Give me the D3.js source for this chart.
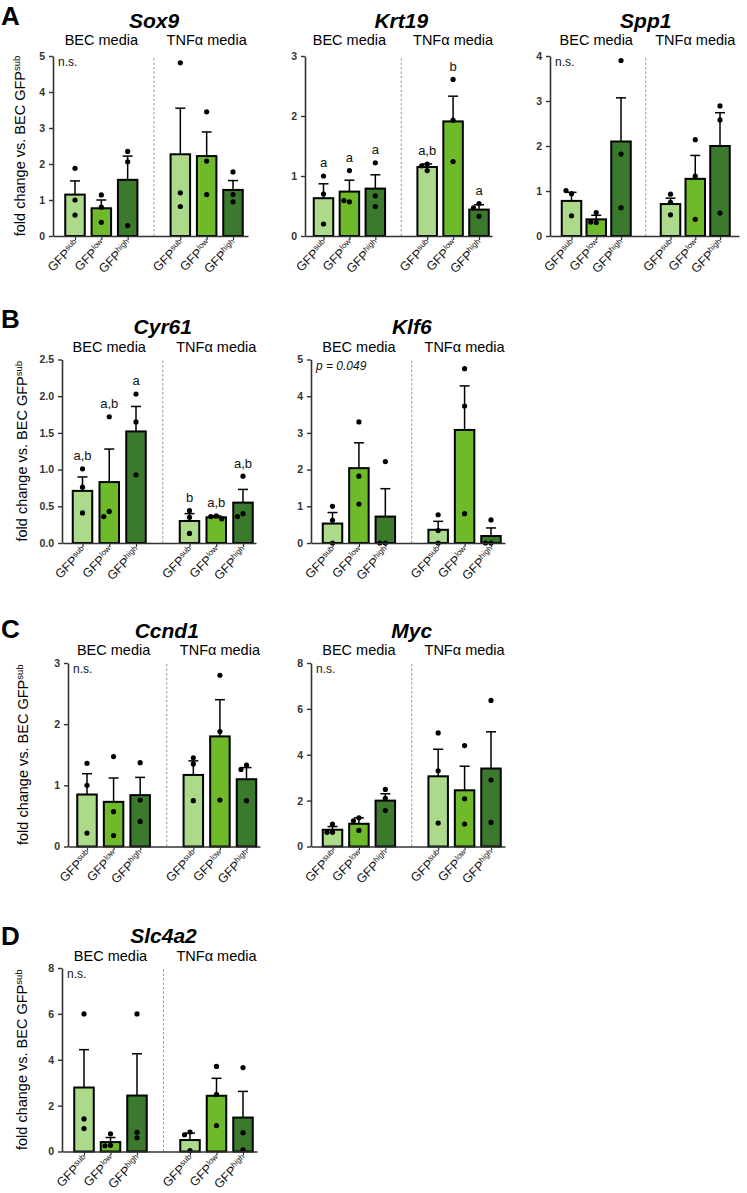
<!DOCTYPE html>
<html><head><meta charset="utf-8">
<script src="https://cdn.jsdelivr.net/npm/d3@7"></script>
<style>body{margin:0;background:#fff} svg{display:block} text{font-family:"Liberation Sans", Arial, Helvetica, sans-serif}</style>
</head><body><svg id="c" width="747" height="1193"></svg>
<script>
// ---------- data ----------
const categories = ["sub","low","high","sub","low","high"];
const mediaLabels = ["BEC media","TNFα media"];

const sox9Mean = [1.15, 0.77, 1.56, 2.27, 2.22, 1.28];
const sox9Err  = [1.53, 1.00, 2.22, 3.55, 2.89, 1.54];
const sox9Dots = [[1.88,1.00,0.58],[1.14,0.80,0.38],[2.35,2.06,0.29],[4.81,1.20,0.82],[3.45,2.08,1.15],[1.78,1.15,0.95]];
const sox9Ticks = [0,1,2,3,4,5];

const krt19Mean = [0.63, 0.74, 0.79, 1.15, 1.91, 0.44];
const krt19Err  = [0.87, 0.93, 1.02, 1.20, 2.33, 0.52];
const krt19Dots = [[1.00,0.70,0.20],[1.09,0.57,0.59],[1.22,0.67,0.49],[1.20,1.17,1.09],[2.61,1.93,1.24],[0.54,0.47,0.33]];
const krt19Letters = ["a","a","a","a,b","b","a"];
const krt19Ticks = [0,1,2,3];

const spp1Mean = [0.78, 0.37, 2.10, 0.71, 1.27, 2.00];
const spp1Err  = [0.97, 0.46, 3.07, 0.84, 1.79, 2.74];
const spp1Dots = [[0.94,1.01,0.45],[0.52,0.30,0.31],[3.90,1.82,0.63],[0.93,0.75,0.47],[2.14,1.33,0.37],[2.89,2.58,0.51]];
const spp1Ticks = [0,1,2,3,4];

const cyr61Mean = [0.71, 0.83, 1.52, 0.30, 0.35, 0.55];
const cyr61Err  = [0.90, 1.28, 1.86, 0.40, 0.37, 0.73];
const cyr61Dots = [[1.01,0.76,0.41],[1.72,0.43,0.36],[2.03,1.65,0.93],[0.44,0.35,0.13],[0.37,0.36,0.33],[0.91,0.40,0.36]];
const cyr61Letters = ["a,b","a,b","a","b","a,b","a,b"];
const cyr61Ticks = [0,0.5,1.0,1.5,2.0,2.5];

const klf6Mean = [0.53, 2.04, 0.72, 0.36, 3.08, 0.19];
const klf6Err  = [0.83, 2.73, 1.48, 0.59, 4.28, 0.41];
const klf6Dots = [[1.00,0.62,0.00],[3.30,1.82,1.06],[2.22,0.00,0.00],[0.77,0.34,0.00],[4.75,3.73,0.80],[0.63,0.00,0.00]];
const klf6Ticks = [0,1,2,3,4,5];

const ccnd1Mean = [0.85, 0.73, 0.84, 1.17, 1.80, 1.10];
const ccnd1Err  = [1.19, 1.12, 1.13, 1.40, 2.40, 1.29];
const ccnd1Dots = [[1.36,1.00,0.22],[1.47,0.57,0.18],[1.37,0.76,0.41],[1.45,1.35,0.75],[2.80,1.88,0.76],[1.33,1.26,0.75]];
const ccnd1Ticks = [0,1,2,3];

const mycMean = [0.73, 0.99, 2.00, 3.06, 2.45, 3.40];
const mycErr  = [0.87, 1.25, 2.30, 4.24, 3.50, 5.00];
const mycDots = [[0.98,0.62,0.62],[1.25,1.12,0.70],[2.49,2.10,1.57],[4.95,3.30,1.02],[4.40,2.08,0.98],[6.37,2.90,1.05]];
const mycTicks = [0,2,4,6,8];

const slc4a2Mean = [2.79, 0.41, 2.44, 0.50, 2.43, 1.48];
const slc4a2Err  = [4.44, 0.61, 4.26, 0.80, 3.19, 2.62];
const slc4a2Dots = [[6.00,1.42,1.00],[0.77,0.27,0.25],[6.00,0.84,0.60],[0.85,0.73,0.04],[3.71,2.49,1.13],[3.66,0.82,0.07]];
const slc4a2Ticks = [0,2,4,6,8];

// ---------- layout / styling ----------
const colors = {sub:"#acd98a", low:"#6fba2a", high:"#3b7a2c"};
const slots = [0,1,2,4,5,6];

const panels = [
  {gene:"Sox9",  mean:sox9Mean,  err:sox9Err,  dots:sox9Dots,  ticks:sox9Ticks,  max:5,   fmt:d3.format("d"),  ax:53,  top:56,  bottom:236, bx:[22,180], xEnd:195, note:"n.s.", ylab:25, tDy:28, sDy:11},
  {gene:"Krt19", mean:krt19Mean, err:krt19Err, dots:krt19Dots, ticks:krt19Ticks, max:3,   fmt:d3.format("d"),  ax:305, top:56,  bottom:236, bx:[18.5,174], xEnd:187, letters:krt19Letters, tDy:28, sDy:11},
  {gene:"Spp1",  mean:spp1Mean,  err:spp1Err,  dots:spp1Dots,  ticks:spp1Ticks,  max:4,   fmt:d3.format("d"),  ax:550, top:56,  bottom:236, bx:[21.5,170], xEnd:189, note:"n.s.", tDy:28, sDy:11},
  {gene:"Cyr61", mean:cyr61Mean, err:cyr61Err, dots:cyr61Dots, ticks:cyr61Ticks, max:2.5, fmt:d3.format(".1f"), ax:62,  top:359.5, bottom:543, bx:[20.5,181], xEnd:194, letters:cyr61Letters, ylab:27, tDy:26, sDy:8},
  {gene:"Klf6",  mean:klf6Mean,  err:klf6Err,  dots:klf6Dots,  ticks:klf6Ticks,  max:5,   fmt:d3.format("d"),  ax:311, top:359.5, bottom:543, bx:[21.5,180], xEnd:194, note:"p = 0.049", italicNote:true, tDy:26, sDy:8},
  {gene:"Ccnd1", mean:ccnd1Mean, err:ccnd1Err, dots:ccnd1Dots, ticks:ccnd1Ticks, max:3,   fmt:d3.format("d"),  ax:68,  top:663, bottom:846.5, bx:[19,178.5], xEnd:192, note:"n.s.", ylab:28, tDy:25, sDy:8},
  {gene:"Myc",   mean:mycMean,   err:mycErr,   dots:mycDots,   ticks:mycTicks,   max:8,   fmt:d3.format("d"),  ax:311, top:663, bottom:846.5, bx:[21.5,180], xEnd:194, note:"n.s.", tDy:25, sDy:8},
  {gene:"Slc4a2",mean:slc4a2Mean,err:slc4a2Err,dots:slc4a2Dots,ticks:slc4a2Ticks,max:8,   fmt:d3.format("d"),  ax:62,  top:968, bottom:1151.5, bx:[22,181], xEnd:195, note:"n.s.", ylab:27, tDy:25, sDy:7}
];
const panelLetters = [{t:"A",y:25},{t:"B",y:328},{t:"C",y:638},{t:"D",y:945}];

const svg = d3.select("#c");
svg.append("rect").attr("width",747).attr("height",1193).attr("fill","#fff");

panelLetters.forEach(p=>{
  svg.append("text").attr("x",1).attr("y",p.y).attr("font-size",26).attr("font-weight","bold").attr("fill","#000").text(p.t);
});

panels.forEach(p=>{
  const g = svg.append("g");
  const y = d3.scaleLinear().domain([0,p.max]).range([p.bottom,p.top]);
  const x = d3.scaleLinear().domain([0,6]).range([p.ax+p.bx[0],p.ax+p.bx[1]]);
  const xAxisScale = d3.scaleLinear().domain([x.invert(p.ax), x.invert(p.ax+p.xEnd)]).range([p.ax,p.ax+p.xEnd]);
  const bw = 19.5;

  // dashed separator
  g.append("line").attr("x1",x(3)).attr("x2",x(3)).attr("y1",p.bottom).attr("y2",p.top)
    .attr("stroke","#999").attr("stroke-width",1).attr("stroke-dasharray","2.5,2");

  // bars
  slots.forEach((s,i)=>{
    const cx = x(s);
    g.append("rect").attr("x",cx-bw/2).attr("y",y(p.mean[i])).attr("width",bw)
      .attr("height",p.bottom-y(p.mean[i])).attr("fill",colors[categories[i]])
      .attr("stroke","#000").attr("stroke-width",2);
    // error bar
    g.append("line").attr("x1",cx).attr("x2",cx).attr("y1",y(p.mean[i])).attr("y2",y(p.err[i]))
      .attr("stroke","#000").attr("stroke-width",1.5);
    g.append("line").attr("x1",cx-5).attr("x2",cx+5).attr("y1",y(p.err[i])).attr("y2",y(p.err[i]))
      .attr("stroke","#000").attr("stroke-width",1.5);
    // dots with simple beeswarm spread
    const placed = [];
    p.dots[i].forEach(v=>{
      const py = y(v);
      const offs = [0,-5.5,5.5,-11,11];
      let ox = 0;
      for (const o of offs){
        if (placed.every(q=> Math.hypot(q[0]-o, q[1]-py) >= 5.5)){ ox=o; break; }
      }
      placed.push([ox,py]);
      g.append("circle").attr("cx",cx+ox).attr("cy",py).attr("r",2.6).attr("fill","#000");
    });
    // significance letters
    if (p.letters){
      const topY = Math.min(y(p.err[i]), ...p.dots[i].map(v=>y(v)-2.6));
      g.append("text").attr("x",cx).attr("y",topY-6).attr("text-anchor","middle")
        .attr("font-size",13).attr("fill","#111").text(p.letters[i]);
    }
    // x tick label
    const t = g.append("text").attr("transform",`translate(${cx+5},${p.bottom+9}) rotate(-45)`)
      .attr("text-anchor","end").attr("font-size",12.5).attr("fill","#111");
    t.append("tspan").text("GFP");
    t.append("tspan").attr("font-size",8).attr("dy",-4.5).text(categories[i]);
  });

  // y axis
  const ya = g.append("g").attr("transform",`translate(${p.ax},0)`)
    .call(d3.axisLeft(y).tickValues(p.ticks).tickFormat(p.fmt).tickSize(4).tickSizeOuter(0).tickPadding(4));
  ya.select(".domain").attr("stroke","#333").attr("stroke-width",1.6);
  ya.selectAll(".tick line").attr("stroke","#333").attr("stroke-width",1.4);
  ya.selectAll(".tick text").attr("font-size",10.5).attr("font-weight","bold").attr("fill","#333")
    .attr("font-family","'Liberation Sans', Arial, sans-serif");

  // x axis
  const xa = g.append("g").attr("transform",`translate(0,${p.bottom})`)
    .call(d3.axisBottom(xAxisScale).tickValues(slots).tickFormat("").tickSize(4).tickSizeOuter(0));
  xa.select(".domain").attr("stroke","#333").attr("stroke-width",1.6);
  xa.selectAll(".tick line").attr("stroke","#333").attr("stroke-width",1.2);

  // titles
  g.append("text").attr("x",x(3)).attr("y",p.top-p.tDy).attr("text-anchor","middle")
    .attr("font-size",21).attr("font-weight","bold").attr("font-style","italic").attr("fill","#000").text(p.gene);
  g.append("text").attr("x",x(1)).attr("y",p.top-p.sDy).attr("text-anchor","middle")
    .attr("font-size",14.5).attr("fill","#000").text(mediaLabels[0]);
  g.append("text").attr("x",x(5)).attr("y",p.top-p.sDy).attr("text-anchor","middle")
    .attr("font-size",14.5).attr("fill","#000").text(mediaLabels[1]);

  // note
  if (p.note){
    g.append("text").attr("x",p.ax+5).attr("y",p.top+10).attr("font-size",12)
      .attr("font-style",p.italicNote?"italic":"normal").attr("fill","#111").text(p.note);
  }

  // y label
  if (p.ylab){
    const yl = g.append("text").attr("transform",`translate(${p.ylab},${(p.top+p.bottom)/2}) rotate(-90)`)
      .attr("text-anchor","middle").attr("font-size",14.5).attr("fill","#000");
    yl.append("tspan").text("fold change vs. BEC GFP");
    yl.append("tspan").attr("font-size",9.5).attr("dy",-5).text("sub");
  }
});
</script></body></html>
